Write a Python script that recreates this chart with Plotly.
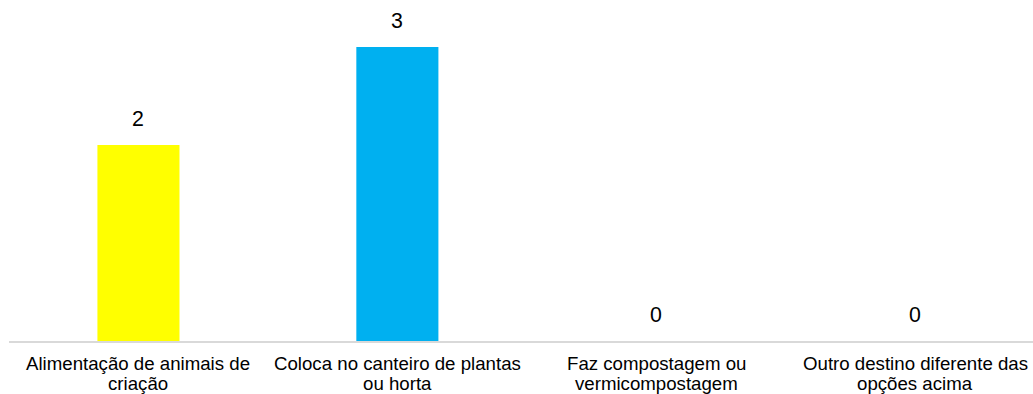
import plotly.graph_objects as go

categories = [
    "Alimentação de animais de<br>criação",
    "Coloca no canteiro de plantas<br>ou horta",
    "Faz compostagem ou<br>vermicompostagem",
    "Outro destino diferente das<br>opções acima",
]
values = [2, 3, 0, 0]
colors = ["#FFFF00", "#00B0F0", "#A5A5A5", "#ED7D31"]

xs = list(range(len(categories)))
FONT = "Liberation Sans, Arial"

fig = go.Figure()
fig.add_trace(go.Bar(
    x=xs, y=values, marker=dict(color=colors, line=dict(width=0)),
    width=0.317, hoverinfo="skip",
))

# value labels
for x, v in zip(xs, values):
    fig.add_annotation(
        x=x, y=v, text=str(v), showarrow=False, yanchor="middle",
        yshift=26.5, font=dict(family=FONT, size=21.33, color="#000000"),
    )

# category labels (two lines each, tighter line spacing as in the reference)
for x, cat in zip(xs, categories):
    for i, line in enumerate(cat.split("<br>")):
        fig.add_annotation(
            x=x, y=0, yref="paper", text=line, showarrow=False,
            yanchor="middle", yshift=-22.7 - 20 * i,
            font=dict(family=FONT, size=18.67, color="#000000"),
        )

fig.update_layout(
    width=1033, height=394,
    margin=dict(l=8.7, r=0, t=0, b=52.5),
    paper_bgcolor="white", plot_bgcolor="white",
    showlegend=False,
    xaxis=dict(
        range=[-0.5, 3.455], tickmode="array", tickvals=xs, showticklabels=False,
        showline=True, linecolor="#D9D9D9", linewidth=1.5, showgrid=False,
        zeroline=False, ticks="",
    ),
    yaxis=dict(range=[0, 3.48], visible=False, showgrid=False, zeroline=False),
)

fig.write_html("out.html")
